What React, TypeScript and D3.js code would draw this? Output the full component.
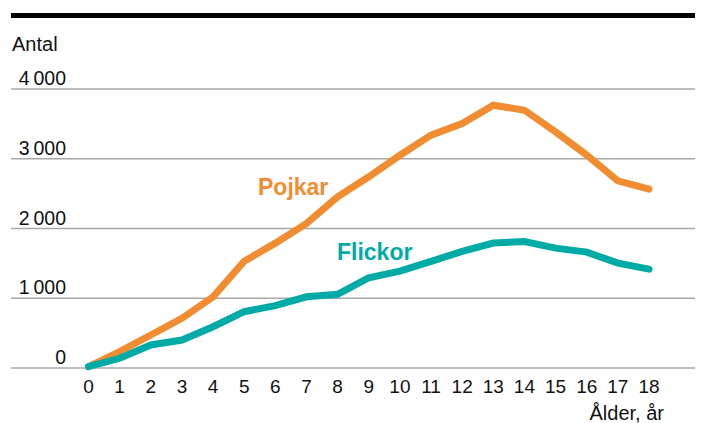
import React from "react";
import * as d3 from "d3";

const ages = [0, 1, 2, 3, 4, 5, 6, 7, 8, 9, 10, 11, 12, 13, 14, 15, 16, 17, 18];
const pojkar = [20, 234, 473, 712, 1021, 1530, 1790, 2073, 2454, 2741, 3050, 3338, 3506, 3768, 3696, 3386, 3052, 2683, 2564];
const flickor = [20, 139, 330, 401, 592, 807, 895, 1021, 1056, 1294, 1390, 1529, 1672, 1791, 1814, 1719, 1662, 1504, 1418];
const yTicks = [0, 1000, 2000, 3000, 4000];
const yTickLabels = ["0", "1\u2009000", "2\u2009000", "3\u2009000", "4\u2009000"];

const W = 704;
const H = 423;
const FONT = "'Liberation Sans', Arial, Helvetica, sans-serif";
const ORANGE = "#F28C30";
const TEAL = "#00ABA6";

export default function App() {
  const x = d3.scaleLinear().domain([0, 18]).range([88.5, 649]);
  const y = d3.scaleLinear().domain([0, 4000]).range([368, 89]);
  const line = d3
    .line<number>()
    .x((_, i) => x(ages[i]))
    .y((d) => y(d));

  return (
    <svg
      width={W}
      height={H}
      style={{ position: "absolute", left: 0, top: 0, background: "#fff" }}
      fontFamily={FONT}
    >
      <rect x={11} y={13} width={684} height={5} fill="#000" />
      <text x={12} y={51} fontSize={20} fill="#111">
        Antal
      </text>
      {yTicks.map((t, i) => (
        <g key={t}>
          <line x1={11} x2={695} y1={y(t)} y2={y(t)} stroke="#a8a8a8" strokeWidth={1.6} />
          <text
            x={66}
            y={y(t) - 4}
            fontSize={19.5}
            textAnchor="end"
            fill="#111"
          >
            {yTickLabels[i]}
          </text>
        </g>
      ))}
      {ages.map((a) => (
        <text key={a} x={x(a)} y={393} fontSize={19} textAnchor="middle" fill="#111">
          {a}
        </text>
      ))}
      <text x={664} y={420} fontSize={20} textAnchor="end" fill="#111">
        Ålder, år
      </text>
      <path
        d={line(pojkar) || ""}
        fill="none"
        stroke={ORANGE}
        strokeWidth={7}
        strokeLinecap="round"
        strokeLinejoin="miter"
      />
      <path
        d={line(flickor) || ""}
        fill="none"
        stroke={TEAL}
        strokeWidth={7}
        strokeLinecap="round"
        strokeLinejoin="miter"
      />
      <text x={258} y={195} fontSize={23} fontWeight="bold" fill={ORANGE}>
        Pojkar
      </text>
      <text x={337} y={260} fontSize={23} fontWeight="bold" fill={TEAL}>
        Flickor
      </text>
    </svg>
  );
}
